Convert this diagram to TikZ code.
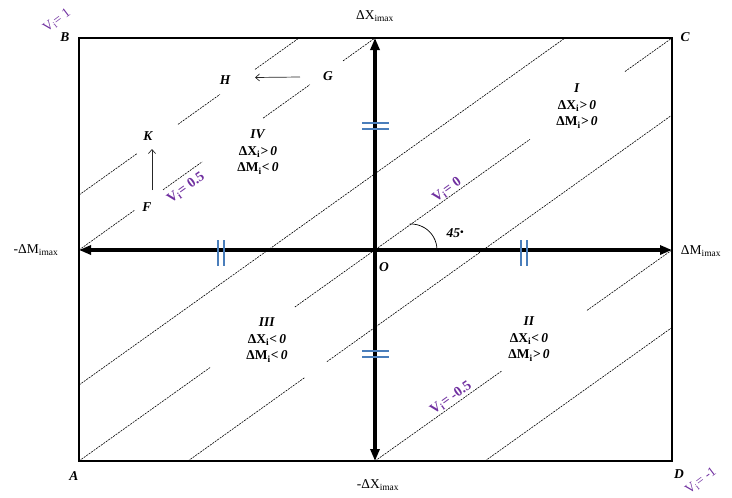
\documentclass[tikz,border=0pt]{standalone}
\usepackage{fontspec}
\setmainfont{Liberation Serif}
\usetikzlibrary{arrows.meta,calc}
\definecolor{vpurple}{HTML}{7030A0}
\definecolor{tickblue}{HTML}{4A7EBB}
\begin{document}
\begin{tikzpicture}[x=1pt,y=-1pt,
  vline/.style={line width=0.6pt, dash pattern=on 2pt off 1pt},
  axisline/.style={line width=3.1pt, {Triangle[length=12pt,width=9pt]}-{Triangle[length=12pt,width=9pt]}},
  frame/.style={line width=1.6pt},
  tickmark/.style={tickblue, line width=1.9pt},
  ptarrow/.style={line width=0.7pt, draw=black!85, -{Straight Barb[length=4pt,width=7pt]}},
  axlabel/.style={inner sep=0pt, font=\fontsize{13.5}{15}\selectfont},
  ptlabel/.style={inner sep=0pt, font=\fontsize{13.5}{15}\selectfont\bfseries\itshape},
  quad/.style={inner sep=0pt, align=center, font=\fontsize{13.5}{16.5}\selectfont\bfseries},
  vlabel/.style={inner sep=0pt, text=vpurple, rotate=35.5, font=\fontsize{14}{15}\selectfont\bfseries},
  vlabelthin/.style={inner sep=0pt, text=vpurple, rotate=37, font=\fontsize{13.5}{15}\selectfont},
]
\useasboundingbox (0,0) rectangle (732,498);

% corners and axis ends
\coordinate (A) at (79,461);
\coordinate (B) at (79,38);
\coordinate (C) at (672,38);
\coordinate (D) at (672,461);
\coordinate (O) at (375,250);
\coordinate (Lf) at (79,250);
\coordinate (Rt) at (672,250);
\coordinate (Tp) at (375,38);
\coordinate (Bm) at (375,461);
% extra parallel lines
\coordinate (p1a) at (79,195);   \coordinate (p1b) at (299,38);
\coordinate (p2a) at (79,385);   \coordinate (p2b) at (565,38);
\coordinate (p3a) at (188,461);  \coordinate (p3b) at (672,115);
\coordinate (p4a) at (485,461);  \coordinate (p4b) at (672,327.5);

% dashed lines
% V=0
\draw[vline] (A) -- ($(A)!0.221!(C)$);
\draw[vline] ($(A)!0.364!(C)$) -- ($(A)!0.7605!(C)$);
\draw[vline] ($(A)!0.9207!(C)$) -- (C);
% V=0.5
\draw[vline] (Lf) -- ($(Lf)!0.189!(Tp)$);
\draw[vline] ($(Lf)!0.284!(Tp)$) -- ($(Lf)!0.416!(Tp)$);
\draw[vline] ($(Lf)!0.622!(Tp)$) -- ($(Lf)!0.780!(Tp)$);
\draw[vline] ($(Lf)!0.892!(Tp)$) -- (Tp);
% V=-0.5
\draw[vline] (Bm) -- ($(Bm)!0.428!(Rt)$);
\draw[vline] ($(Bm)!0.714!(Rt)$) -- (Rt);
% other lines
\draw[vline] (p1a) -- ($(p1a)!0.264!(p1b)$);
\draw[vline] ($(p1a)!0.45!(p1b)$) -- ($(p1a)!0.641!(p1b)$);
\draw[vline] ($(p1a)!0.80!(p1b)$) -- (p1b);
\draw[vline] (p2a) -- (p2b);
\draw[vline] (p3a) -- ($(p3a)!0.242!(p3b)$);
\draw[vline] ($(p3a)!0.287!(p3b)$) -- (p3b);
\draw[vline] (p4a) -- (p4b);

% frame
\draw[frame] (A) rectangle (C);

% axes
\draw[axisline] (Lf) -- (Rt);
\draw[axisline] (Bm) -- (Tp);

% equal-length marks
\coordinate (m1a) at (362,123); \coordinate (m1b) at (389,123);
\coordinate (m2a) at (362,129); \coordinate (m2b) at (389,129);
\coordinate (m3a) at (362,351); \coordinate (m3b) at (389,351);
\coordinate (m4a) at (362,357); \coordinate (m4b) at (389,357);
\coordinate (m5a) at (218,240); \coordinate (m5b) at (218,266);
\coordinate (m6a) at (224,240); \coordinate (m6b) at (224,266);
\coordinate (m7a) at (521,240); \coordinate (m7b) at (521,266);
\coordinate (m8a) at (527,240); \coordinate (m8b) at (527,266);
\draw[tickmark] (m1a) -- (m1b); \draw[tickmark] (m2a) -- (m2b);
\draw[tickmark] (m3a) -- (m3b); \draw[tickmark] (m4a) -- (m4b);
\draw[tickmark] (m5a) -- (m5b); \draw[tickmark] (m6a) -- (m6b);
\draw[tickmark] (m7a) -- (m7b); \draw[tickmark] (m8a) -- (m8b);

% 45 degree arc
\draw[line width=0.7pt] (437,250) arc[start angle=0, end angle=-93, radius=26];
\node[ptlabel] (ang) at (455,233) {45\raisebox{0.35ex}{\fontsize{10}{10}\selectfont •}};

% axis labels
\node[axlabel] (xmax) at (375,16) {ΔX\textsubscript{imax}};
\node[axlabel] (xmin) at (378,485) {-ΔX\textsubscript{imax}};
\node[axlabel] (mmin) at (36,250) {-ΔM\textsubscript{imax}};
\node[axlabel] (mmax) at (701,251) {ΔM\textsubscript{imax}};

% corner and point labels
\node[ptlabel] (lB) at (65,37) {B};
\node[ptlabel] (lC) at (685,37) {C};
\node[ptlabel] (lA) at (74,476) {A};
\node[ptlabel] (lD) at (679,474) {D};
\node[ptlabel] (lO) at (384,267) {O};
\node[ptlabel] (H) at (225,80) {H};
\node[ptlabel] (G) at (328,76) {G};
\node[ptlabel] (K) at (148,136) {K};
\node[ptlabel] (F) at (147,207) {F};
\coordinate (gs) at (300,77);
\coordinate (ge) at (255,77.5);
\coordinate (fs) at (152,190);
\coordinate (fe) at (152,149);
\draw[ptarrow] (gs) -- (ge);
\draw[ptarrow] (fs) -- (fe);

% quadrant labels
\node[quad] (q1) at (577,106) {\textit{I}\\ΔX\textsubscript{i}\textit{>\,0}\\ΔM\textsubscript{i}\textit{>\,0}};
\node[quad] (q4) at (258,152) {\textit{IV}\\ΔX\textsubscript{i}\textit{>\,0}\\ΔM\textsubscript{i}\textit{<\,0}};
\node[quad] (q3) at (267,340) {\textit{III}\\ΔX\textsubscript{i}\textit{<\,0}\\ΔM\textsubscript{i}\textit{<\,0}};
\node[quad] (q2) at (529,339) {\textit{II}\\ΔX\textsubscript{i}\textit{<\,0}\\ΔM\textsubscript{i}\textit{>\,0}};

% V labels
\node[vlabelthin] (v1) at (57,21) {V\textsubscript{i}= 1};
\node[vlabelthin] (vm1) at (701,481) {V\textsubscript{i}= -1};
\node[vlabel] (v0) at (447,190) {V\textsubscript{i}= 0};
\node[vlabel] (v05) at (186,188) {V\textsubscript{i}= 0.5};
\node[vlabel] (vm05) at (451,398) {V\textsubscript{i}= -0.5};
\end{tikzpicture}
\end{document}
